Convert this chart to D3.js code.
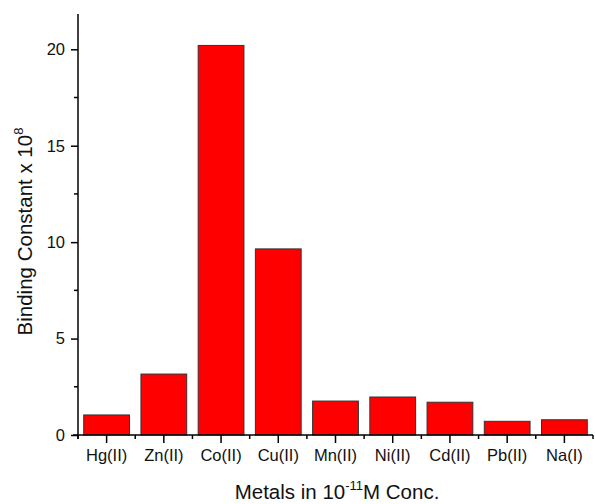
<!DOCTYPE html>
<html>
<head>
<meta charset="utf-8">
<script src="https://cdn.jsdelivr.net/npm/d3@7"></script>
<style>
  body { margin: 0; background: #fff; }
  text { font-family: "Liberation Sans", Arial, sans-serif; fill: #111; }
</style>
</head>
<body>
<div id="chart"></div>
<script>
// data
const metals = ["Hg(II)", "Zn(II)", "Co(II)", "Cu(II)", "Mn(II)", "Ni(II)", "Cd(II)", "Pb(II)", "Na(I)"];
const bindingConst = [1.04, 3.16, 20.2, 9.65, 1.76, 1.97, 1.70, 0.71, 0.79];
const yTicks = [0, 5, 10, 15, 20];
const yMinorTicks = [2.5, 7.5, 12.5, 17.5];

const width = 595, height = 504;
const plotLeft = 78, plotRight = 593, plotTop = 14, plotBottom = 435;

const svg = d3.select("#chart").append("svg")
  .attr("width", width)
  .attr("height", height);

const x = d3.scaleBand()
  .domain(metals)
  .range([plotLeft, plotRight])
  .paddingInner(0.2)
  .paddingOuter(0.1);

const y = d3.scaleLinear()
  .domain([0, 21.83])
  .range([plotBottom, plotTop]);

// bars
svg.selectAll("rect.bar")
  .data(metals)
  .enter()
  .append("rect")
  .attr("class", "bar")
  .attr("x", d => x(d))
  .attr("y", (d, i) => y(bindingConst[i]))
  .attr("width", x.bandwidth())
  .attr("height", (d, i) => y(0) - y(bindingConst[i]))
  .attr("fill", "#ff0000")
  .attr("stroke", "#333")
  .attr("stroke-width", 1);

// x axis: major ticks at centers, minor at boundaries
const xAxis = svg.append("g")
  .attr("transform", "translate(0," + plotBottom + ")")
  .call(d3.axisBottom(x).tickSize(8).tickPadding(6).tickSizeOuter(0));
xAxis.select(".domain").attr("stroke", "#000").attr("stroke-width", 1.5)
  .attr("d", "M" + (plotLeft - 5) + ",0H" + plotRight);
xAxis.selectAll(".tick line").attr("stroke", "#000").attr("stroke-width", 1.5);
xAxis.selectAll("text").style("font-size", "16.5px").attr("fill", "#111");

const step = x.step();
const boundaries = d3.range(metals.length + 1).map(i => plotLeft + i * step);
svg.append("g").selectAll("line")
  .data(boundaries)
  .enter()
  .append("line")
  .attr("x1", d => d).attr("x2", d => d)
  .attr("y1", plotBottom).attr("y2", plotBottom + 4)
  .attr("stroke", "#000").attr("stroke-width", 1.5);

// y axis
const yAxis = svg.append("g")
  .attr("transform", "translate(" + plotLeft + ",0)")
  .call(d3.axisLeft(y).tickValues(yTicks).tickSize(7).tickPadding(6).tickSizeOuter(0));
yAxis.select(".domain").attr("stroke", "#000").attr("stroke-width", 1.5)
  .attr("d", "M0," + plotTop + "V" + (plotBottom + 4));
yAxis.selectAll(".tick line").attr("stroke", "#000").attr("stroke-width", 1.5);
yAxis.selectAll("text").style("font-size", "16.5px").attr("fill", "#111");

svg.append("g").selectAll("line")
  .data(yMinorTicks)
  .enter()
  .append("line")
  .attr("x1", plotLeft - 4).attr("x2", plotLeft)
  .attr("y1", d => y(d)).attr("y2", d => y(d))
  .attr("stroke", "#000").attr("stroke-width", 1.5);

// axis titles
const xTitle = svg.append("text")
  .attr("x", 337)
  .attr("y", 499)
  .attr("text-anchor", "middle")
  .style("font-size", "20.5px");
xTitle.append("tspan").text("Metals in 10");
xTitle.append("tspan").attr("dy", -9).style("font-size", "13px").text("-11");
xTitle.append("tspan").attr("dy", 9).text("M Conc.");

const yTitle = svg.append("text")
  .attr("transform", "translate(31.5,231.5) rotate(-90)")
  .attr("text-anchor", "middle")
  .style("font-size", "20.5px");
yTitle.append("tspan").text("Binding Constant x 10");
yTitle.append("tspan").attr("dy", -9).style("font-size", "13px").text("8");
</script>
</body>
</html>
